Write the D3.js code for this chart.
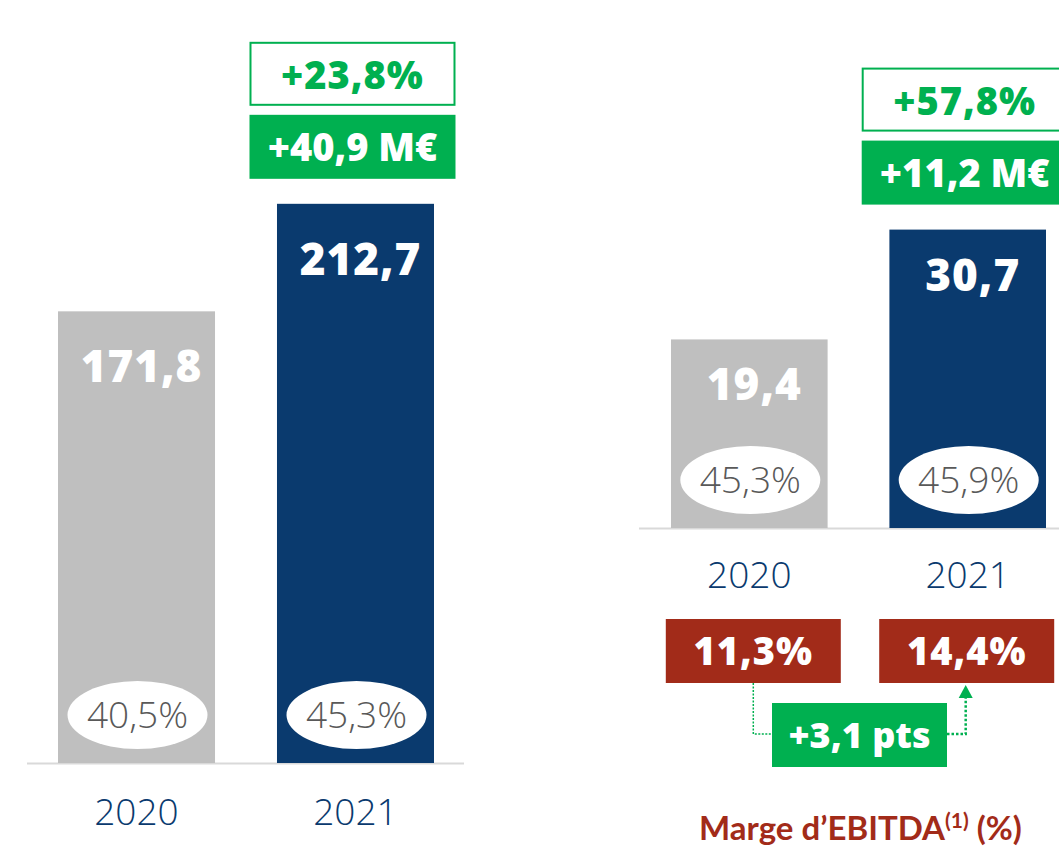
<!DOCTYPE html>
<html>
<head>
<meta charset="utf-8">
<script src="https://cdn.jsdelivr.net/npm/d3@7"></script>
<style>
  body { margin: 0; background: #fff; }
  svg { display: block; }
</style>
</head>
<body>
<div id="chart"></div>
<script>
// donnees
const years = ["2020", "2021"];
const revenue = [171.8, 212.7];
const revenueLabels = ["171,8", "212,7"];
const revenueShare = ["40,5%", "45,3%"];
const revenueGrowth = ["+23,8%", "+40,9 M€"];

const ebitda = [19.4, 30.7];
const ebitdaLabels = ["19,4", "30,7"];
const ebitdaShare = ["45,3%", "45,9%"];
const ebitdaGrowth = ["+57,8%", "+11,2 M€"];

const margins = ["11,3%", "14,4%"];
const marginDelta = "+3,1 pts";
const marginTitle = "Marge d’EBITDA";

const width = 1059, height = 851;
const navy = "#0a3a6e", grey = "#bfbfbf", green = "#00b050", red = "#a22b19";
const boldFont = "'Open Sans', sans-serif";
const lightFont = "'Open Sans', sans-serif";

const svg = d3.select("#chart").append("svg")
  .attr("width", width)
  .attr("height", height);

// un panneau = un petit histogramme a deux barres
function panel(opts) {
  const g = svg.append("g");

  const x = d3.scaleBand()
    .domain(years)
    .range(opts.xRange)
    .paddingInner(0.283)
    .paddingOuter(0);

  const y = d3.scaleLinear()
    .domain([0, 1])
    .range([opts.base, opts.base - opts.pxPerUnit]);

  // ligne de base
  g.append("line")
    .attr("x1", opts.lineX[0]).attr("x2", opts.lineX[1])
    .attr("y1", opts.base + 0.5).attr("y2", opts.base + 0.5)
    .style("stroke", "#d9d9d9")
    .style("stroke-width", 2);

  const data = years.map((yr, i) => ({ year: yr, v: opts.values[i], label: opts.labels[i], share: opts.shares[i] }));

  g.selectAll("rect.bar")
    .data(data)
    .join("rect")
    .attr("class", "bar")
    .attr("x", d => x(d.year))
    .attr("width", x.bandwidth())
    .attr("y", d => y(d.v))
    .attr("height", d => opts.base - y(d.v))
    .style("fill", (d, i) => i == 0 ? grey : navy);

  // valeurs dans les barres
  g.selectAll("text.val")
    .data(data)
    .join("text")
    .attr("class", "val")
    .attr("x", d => x(d.year) + x.bandwidth() / 2 + 5)
    .attr("y", d => y(d.v) + opts.valOffset)
    .attr("text-anchor", "middle")
    .style("font-family", boldFont)
    .style("font-weight", 800)
    .style("font-size", "44px")
    .style("letter-spacing", "1px")
    .style("fill", "#fff")
    .text(d => d.label);

  // ellipses blanches avec la part
  g.selectAll("ellipse")
    .data(data)
    .join("ellipse")
    .attr("cx", d => x(d.year) + x.bandwidth() / 2 + 1)
    .attr("cy", opts.base - 48)
    .attr("rx", 70)
    .attr("ry", 34)
    .style("fill", "#fff");

  g.selectAll("text.share")
    .data(data)
    .join("text")
    .attr("class", "share")
    .attr("x", d => x(d.year) + x.bandwidth() / 2 + 1)
    .attr("y", opts.base - 35)
    .attr("text-anchor", "middle")
    .style("font-family", lightFont)
    .style("font-weight", 300)
    .style("font-size", "37px")
    .style("fill", "#595959")
    .text(d => d.share);

  // annees sous l'axe
  g.selectAll("text.year")
    .data(data)
    .join("text")
    .attr("class", "year")
    .attr("x", d => x(d.year) + x.bandwidth() / 2)
    .attr("y", opts.base + opts.yearOffset)
    .attr("text-anchor", "middle")
    .style("font-family", lightFont)
    .style("font-weight", 300)
    .style("font-size", "37px")
    .style("fill", navy)
    .text(d => d.year);

  // boites de croissance au-dessus de la barre 2021
  const cx = x(years[1]) + x.bandwidth() / 2 - 3;
  const topBar = y(opts.values[1]);
  const bw = 206, bh = 64;
  const yFill = topBar - 25 - bh;
  const yOut = yFill - 9 - bh;

  g.append("rect")
    .attr("x", cx - bw / 2 + 1).attr("y", yOut + 1)
    .attr("width", bw - 2).attr("height", bh - 2)
    .style("fill", "#fff")
    .style("stroke", green)
    .style("stroke-width", 2);
  g.append("text")
    .attr("x", cx).attr("y", yOut + bh / 2 + 15)
    .attr("text-anchor", "middle")
    .style("font-family", boldFont).style("font-weight", 800)
    .style("font-size", "38px").style("letter-spacing", "1px")
    .style("fill", green)
    .text(opts.growth[0]);

  g.append("rect")
    .attr("x", cx - bw / 2).attr("y", yFill)
    .attr("width", bw).attr("height", bh)
    .style("fill", green);
  g.append("text")
    .attr("x", cx).attr("y", yFill + bh / 2 + 14)
    .attr("text-anchor", "middle")
    .style("font-family", boldFont).style("font-weight", 800)
    .style("font-size", "38px")
    .style("fill", "#fff")
    .text(opts.growth[1]);

  return x;
}

panel({
  xRange: [58, 434], base: 763, pxPerUnit: 2.629, lineX: [27, 464],
  values: revenue, labels: revenueLabels, shares: revenueShare, growth: revenueGrowth,
  valOffset: 71, yearOffset: 62
});

const xR = panel({
  xRange: [671, 1046], base: 528, pxPerUnit: 9.72, lineX: [639, 1059],
  values: ebitda, labels: ebitdaLabels, shares: ebitdaShare, growth: ebitdaGrowth,
  valOffset: 61, yearOffset: 60
});

// marges d'EBITDA
const mg = svg.append("g");
const centers = years.map(yr => xR(yr) + xR.bandwidth() / 2);
const boxW = 175, boxH = 64, boxY = 619;

mg.selectAll("rect.marge")
  .data(margins)
  .join("rect")
  .attr("class", "marge")
  .attr("x", (d, i) => centers[i] + (i == 0 ? 4 : -1) - boxW / 2)
  .attr("y", boxY)
  .attr("width", boxW).attr("height", boxH)
  .style("fill", red);

mg.selectAll("text.marge")
  .data(margins)
  .join("text")
  .attr("class", "marge")
  .attr("x", (d, i) => centers[i] + (i == 0 ? 4 : -1))
  .attr("y", boxY + boxH / 2 + 14)
  .attr("text-anchor", "middle")
  .style("font-family", boldFont).style("font-weight", 800)
  .style("font-size", "38px").style("letter-spacing", "1px")
  .style("fill", "#fff")
  .text(d => d);

// connecteur pointille + fleche
const dY = 703, midX = (centers[0] + centers[1]) / 2 + 1;
const lineY = dY + 31;
const x0 = centers[0] + 4, x1 = centers[1] - 2;

mg.append("path")
  .attr("d", `M${x0},${boxY + boxH} V${lineY} H${midX - boxW / 2}`)
  .style("fill", "none")
  .style("stroke", green)
  .style("stroke-width", 1.5)
  .style("stroke-dasharray", "2,1.5");

mg.append("path")
  .attr("d", `M${midX + boxW / 2},${lineY} H${x1} V${boxY + boxH + 15}`)
  .style("fill", "none")
  .style("stroke", green)
  .style("stroke-width", 2.5)
  .style("stroke-dasharray", "2.5,2");

mg.append("path")
  .attr("d", `M${x1},${boxY + boxH + 2} L${x1 - 7},${boxY + boxH + 15} L${x1 + 7},${boxY + boxH + 15} Z`)
  .style("fill", green);

mg.append("rect")
  .attr("x", midX - boxW / 2).attr("y", dY)
  .attr("width", boxW).attr("height", boxH)
  .style("fill", green);

mg.append("text")
  .attr("x", midX).attr("y", dY + boxH / 2 + 13)
  .attr("text-anchor", "middle")
  .style("font-family", boldFont).style("font-weight", 800)
  .style("font-size", "36px")
  .style("fill", "#fff")
  .text(marginDelta);

// titre
const title = mg.append("text")
  .attr("x", midX + 1).attr("y", 840)
  .attr("text-anchor", "middle")
  .style("font-family", "Lato, sans-serif")
  .style("font-weight", 700)
  .style("font-size", "33px")
  .style("fill", red);
title.append("tspan").text(marginTitle);
title.append("tspan").attr("dy", -12).style("font-size", "21px").text("(1)");
title.append("tspan").attr("dy", 12).text(" (%)");
</script>
</body>
</html>
